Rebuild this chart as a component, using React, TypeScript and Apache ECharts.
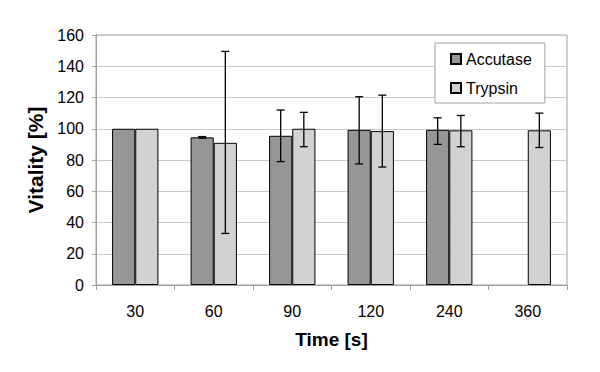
import React, { useEffect, useRef } from "react";
import * as echarts from "echarts";

const categories = ["30", "60", "90", "120", "240", "360"];
const accutase: (number | null)[] = [100, 94.5, 95.5, 99.3, 99.3, null];
const trypsin: (number | null)[] = [100, 91, 100, 98.5, 99, 99];
const accutaseLow: (number | null)[] = [null, 94, 79, 77.5, 90, null];
const accutaseHigh: (number | null)[] = [null, 95, 112, 120.5, 107, null];
const trypsinLow: (number | null)[] = [null, 33, 88.5, 75.5, 88.5, 88];
const trypsinHigh: (number | null)[] = [null, 149.5, 110.5, 121.5, 108.5, 110];

const FONT = "Liberation Sans, Arial, sans-serif";
const CAT_GAP = 0.41;

function errorSeries(low: (number | null)[], high: (number | null)[], side: number) {
  const data = categories
    .map((_, i) => [i, low[i], high[i]])
    .filter((d) => d[1] != null && d[2] != null);
  return {
    type: "custom",
    silent: true,
    z: 10,
    data,
    encode: { x: 0, y: [1, 2] },
    renderItem: (params: any, api: any) => {
      const idx = api.value(0);
      const lo = api.coord([idx, api.value(1)]);
      const hi = api.coord([idx, api.value(2)]);
      const band = api.size([1, 0])[0];
      const bw = (band * (1 - CAT_GAP)) / 2;
      const x = lo[0] + side * bw / 2;
      const cap = 4;
      const style = { stroke: "#000", lineWidth: 1.3 };
      return {
        type: "group",
        children: [
          { type: "line", shape: { x1: x, y1: lo[1], x2: x, y2: hi[1] }, style },
          { type: "line", shape: { x1: x - cap, y1: lo[1], x2: x + cap, y2: lo[1] }, style },
          { type: "line", shape: { x1: x - cap, y1: hi[1], x2: x + cap, y2: hi[1] }, style },
        ],
      };
    },
  };
}

export default function App() {
  const ref = useRef<HTMLDivElement>(null);
  useEffect(() => {
    if (!ref.current) return;
    const chart = echarts.init(ref.current, undefined, { renderer: "svg" });
    chart.setOption({
      animation: false,
      backgroundColor: "#fff",
      textStyle: { fontFamily: FONT },
      grid: {
        left: 96,
        top: 35,
        right: 33,
        bottom: 87,
        show: true,
        borderColor: "#a0a0a0",
        borderWidth: 1,
      },
      legend: {
        orient: "vertical",
        left: 435,
        top: 43,
        backgroundColor: "#fff",
        borderColor: "#a0a0a0",
        borderWidth: 1,
        borderRadius: 0,
        padding: [8, 13, 7, 15],
        itemGap: 13,
        itemWidth: 10,
        itemHeight: 10,
        icon: "rect",
        textStyle: { fontFamily: FONT, fontSize: 16, color: "#000" },
        data: ["Accutase", "Trypsin"],
      },
      xAxis: {
        type: "category",
        data: categories,
        name: "Time [s]",
        nameLocation: "middle",
        nameGap: 45,
        nameTextStyle: { fontFamily: FONT, fontSize: 19, fontWeight: "bold", color: "#000" },
        axisLine: { lineStyle: { color: "#a0a0a0" } },
        axisTick: { show: true, length: 5, lineStyle: { color: "#a0a0a0" } },
        axisLabel: { margin: 18, fontSize: 16, color: "#000", fontFamily: FONT },
      },
      yAxis: {
        type: "value",
        min: 0,
        max: 160,
        interval: 20,
        name: "Vitality [%]",
        nameLocation: "middle",
        nameGap: 42,
        nameTextStyle: { fontFamily: FONT, fontSize: 21, fontWeight: "bold", color: "#000" },
        axisLine: { show: true, lineStyle: { color: "#a0a0a0" } },
        axisTick: { show: true, length: 4, lineStyle: { color: "#a0a0a0" } },
        axisLabel: { margin: 12, fontSize: 16, color: "#000", fontFamily: FONT },
        splitLine: { show: true, lineStyle: { color: "#c8c8c8" } },
      },
      series: [
        {
          name: "Accutase",
          type: "bar",
          data: accutase.map((v) => (v == null ? "-" : v)),
          barGap: "0%",
          barCategoryGap: "41%",
          itemStyle: { color: "#969696", borderColor: "#000", borderWidth: 1 },
        },
        {
          name: "Trypsin",
          type: "bar",
          data: trypsin.map((v) => (v == null ? "-" : v)),
          barGap: "0%",
          barCategoryGap: "41%",
          itemStyle: { color: "#d2d2d2", borderColor: "#000", borderWidth: 1 },
        },
        errorSeries(accutaseLow, accutaseHigh, -1),
        errorSeries(trypsinLow, trypsinHigh, 1),
      ],
    });
    return () => chart.dispose();
  }, []);
  return <div ref={ref} style={{ width: 600, height: 372, margin: -8 }} />;
}
